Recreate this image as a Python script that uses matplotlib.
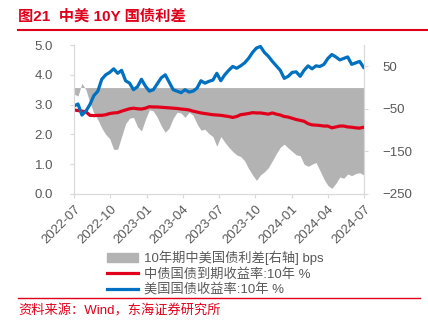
import numpy as np
import pandas as pd
import matplotlib
matplotlib.use('Agg')
import matplotlib.pyplot as plt
import matplotlib.dates as mdates
from matplotlib.patches import Patch
from matplotlib.lines import Line2D

plt.rcParams['font.family'] = ['Liberation Sans', 'Noto Sans CJK SC', 'DejaVu Sans']

# sampling dates, every 10 days
dates = pd.date_range('2022-07-01', periods=74, freq='10D')

# US 10Y yield, %
us_10y = [2.95, 3.02, 2.65, 2.78, 3.00, 3.30, 3.45, 3.85, 4.00, 4.08,
          4.20, 4.05, 4.15, 3.80, 3.72, 3.50, 3.60, 3.85, 3.62, 3.45,
          3.50, 3.70, 3.90, 4.00, 3.75, 3.50, 3.45, 3.40, 3.50, 3.42,
          3.45, 3.55, 3.80, 3.72, 3.78, 3.82, 4.05, 3.80, 4.00, 4.15,
          4.28, 4.22, 4.30, 4.40, 4.55, 4.75, 4.90, 4.95, 4.75, 4.62,
          4.45, 4.30, 4.15, 3.88, 3.95, 4.08, 4.10, 3.95, 4.15, 4.30,
          4.20, 4.30, 4.28, 4.35, 4.55, 4.68, 4.60, 4.50, 4.55, 4.60,
          4.35, 4.40, 4.45, 4.25]

# China 10Y govt bond yield, %
cn_10y = [2.82, 2.80, 2.78, 2.76, 2.64, 2.63, 2.64, 2.64, 2.66, 2.70,
          2.72, 2.73, 2.78, 2.82, 2.86, 2.88, 2.86, 2.85, 2.88, 2.93,
          2.92, 2.92, 2.91, 2.90, 2.89, 2.88, 2.87, 2.85, 2.84, 2.82,
          2.78, 2.75, 2.72, 2.70, 2.68, 2.66, 2.65, 2.64, 2.62, 2.60,
          2.57, 2.60, 2.66, 2.68, 2.70, 2.73, 2.72, 2.72, 2.70, 2.68,
          2.72, 2.68, 2.65, 2.60, 2.58, 2.54, 2.50, 2.47, 2.44, 2.36,
          2.32, 2.31, 2.30, 2.28, 2.28, 2.22, 2.25, 2.28, 2.28, 2.25,
          2.24, 2.22, 2.21, 2.24]

# CN-US spread, bps (right axis)
spread = [-15, -20, 10, -5, -35, -60, -75, -95, -110, -120,
          -145, -145, -115, -85, -72, -70, -92, -102, -75, -52,
          -55, -70, -90, -105, -95, -72, -58, -60, -70, -58,
          -65, -85, -100, -98, -108, -115, -138, -115, -128, -140,
          -150, -158, -162, -172, -190, -205, -218, -205, -198, -188,
          -172, -155, -140, -133, -142, -150, -158, -160, -180, -185,
          -180, -176, -195, -215, -230, -237, -225, -210, -213, -203,
          -207, -202, -200, -205]

x_ticks = pd.date_range('2022-07-01', '2024-07-01', freq='3MS')

gray = '#B3B3B3'
red = '#E0001B'
blue = '#0070C0'
txt = '#595959'
spine_c = '#D9D9D9'

fig = plt.figure(figsize=(4.28, 3.28), dpi=100)
ax = fig.add_axes([74 / 428, 1 - 194 / 328, 290 / 428, 149 / 328])
ax2 = ax.twinx()
ax2.set_zorder(ax.get_zorder() - 1)
ax.patch.set_visible(False)

ax2.fill_between(dates, spread, 0, color=gray, lw=0)
ax.plot(dates, cn_10y, color=red, lw=2.3)
ax.plot(dates, us_10y, color=blue, lw=2.3)

ax.set_xlim(pd.Timestamp('2022-07-01'), pd.Timestamp('2024-07-01'))
ax.set_ylim(0, 5)
ax.set_yticks(np.arange(0, 5.1, 1))
ax.yaxis.set_major_formatter(matplotlib.ticker.FormatStrFormatter('%.1f'))
ax2.set_ylim(-250, 100)
ax2.set_yticks([-250, -150, -50, 50])

ax.set_xticks(x_ticks)
ax.xaxis.set_major_formatter(mdates.DateFormatter('%Y-%m'))
for lab in ax.get_xticklabels():
    lab.set_rotation(45)
    lab.set_ha('right')
    lab.set_rotation_mode('anchor')

for a in (ax, ax2):
    for s in a.spines.values():
        s.set_color(spine_c)
    a.spines['top'].set_visible(False)
    a.tick_params(colors=spine_c, labelcolor=txt, labelsize=9.5, length=3)
ax.tick_params(axis='y', pad=12)
ax2.tick_params(axis='y', pad=10)

handles = [Patch(color=gray),
           Line2D([], [], color=red, lw=2.3),
           Line2D([], [], color=blue, lw=2.3)]
labels = ['10年期中美国债利差[右轴] bps', '中债国债到期收益率:10年 %', '美国国债收益率:10年 %']
fig.legend(handles, labels, loc='upper left', bbox_to_anchor=(100 / 428, 1 - 244 / 328),
           frameon=False, fontsize=9.5, labelcolor=txt, handlelength=2.4,
           handleheight=0.6, handletextpad=0.4, labelspacing=0.2, borderpad=0)

fig.text(18 / 428, 1 - 16 / 328, '图21  中美 10Y 国债利差', color=red, fontsize=11,
         fontweight='bold', va='center', ha='left')
fig.add_artist(Line2D([18 / 428, 1], [1 - 30 / 328] * 2, color=red, lw=1.5))
fig.add_artist(Line2D([18 / 428, 420 / 428], [1 - 298 / 328] * 2, color=red, lw=1))
fig.text(18 / 428, 1 - 311 / 328, '资料来源：Wind，东海证券研究所', color=red,
         fontsize=9.5, va='center', ha='left')

fig.savefig('out.png', dpi=100)
